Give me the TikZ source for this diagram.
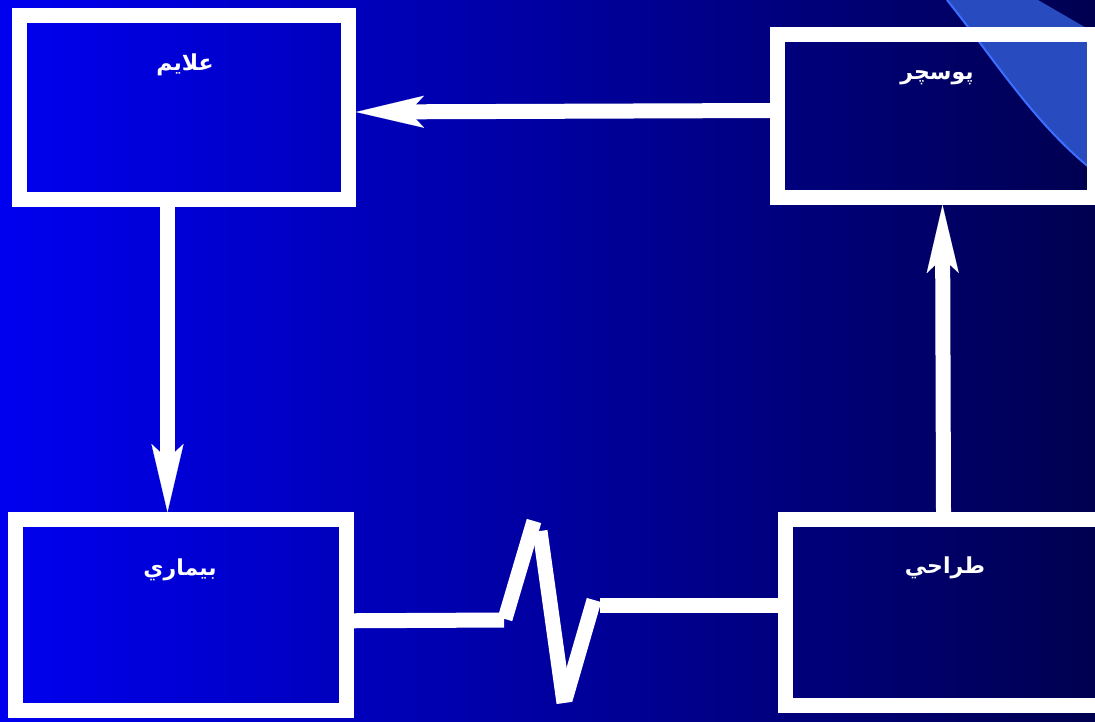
\documentclass[tikz,border=0pt]{standalone}
\usepackage{fontspec}
\newfontfamily\arabicfont[Script=Arabic]{DejaVu Sans}
\TeXXeTstate=1
\usetikzlibrary{arrows.meta}
\definecolor{bgL}{RGB}{0,0,240}
\definecolor{bgR}{RGB}{0,0,80}
\definecolor{deco}{RGB}{40,76,192}
\definecolor{decoedge}{RGB}{60,110,255}
\begin{document}
\begin{tikzpicture}[x=1pt,y=-1pt,
  boxnode/.style={draw=white,line width=15pt,inner sep=0pt},
  lbl/.style={text=white,inner sep=0pt,font=\arabicfont\bfseries\fontsize{22}{28}\selectfont},
  flow/.style={white,line width=15pt,-{Stealth[length=68pt,width=32pt,inset=15pt,line width=0.1pt]}},
  wire/.style={white,line width=15pt,line cap=butt}]
\useasboundingbox (0,0) rectangle (1095,721);
\shade[left color=bgL,right color=bgR] (0,0) rectangle (1095,721);
% decoration top right
\fill[deco] (947,0) .. controls (995,60) and (1035,125) .. (1095,172) -- (1095,33) -- (1038,0) -- cycle;
\draw[decoedge,line width=2pt] (947,0) .. controls (995,60) and (1035,125) .. (1095,172);
% boxes
\node[boxnode,minimum width=329pt,minimum height=184pt] (tl) at (184,107.5) {};
\node[boxnode,minimum width=317pt,minimum height=163pt] (tr) at (936,116) {};
\node[boxnode,minimum width=331.5pt,minimum height=190.5pt] (bl) at (180.75,614.75) {};
\node[boxnode,minimum width=324.5pt,minimum height=185.5pt] (br) at (947.75,612.25) {};
% labels
\node[lbl] (tlt) at (185,65) {\beginR علايم\endR};
\node[lbl] (trt) at (937,78) {\beginR پوسچر\endR};
\node[lbl] (blt) at (180,570) {\beginR بيماري\endR};
\node[lbl] (brt) at (945,568) {\beginR طراحي\endR};
% arrows
\draw[flow] ([yshift=5.5pt]tr.west) -- ([yshift=-4.5pt]tl.east);
\draw[flow] ([xshift=-16.5pt]tl.south) -- ([xshift=-13.25pt]bl.north);
\draw[flow] ([xshift=-4.25pt]br.north) -- ([xshift=6.5pt]tr.south);
% zigzag connector
\coordinate (z1) at (504,620);
\coordinate (z2) at (505,619);
\coordinate (z3) at (534,521);
\coordinate (z4) at (540,531);
\coordinate (z5) at (564,703);
\coordinate (z6) at (565,700);
\coordinate (z7) at (594,600);
\coordinate (z8) at (600,605.5);
\draw[wire] ([yshift=-6pt]bl.east) -- (z1);
\draw[wire] (z2) -- (z3);
\draw[wire] (z4) -- (z5);
\draw[wire] (z6) -- (z7);
\draw[wire] (z8) -- ([yshift=6.75pt]br.west);
\end{tikzpicture}
\end{document}
